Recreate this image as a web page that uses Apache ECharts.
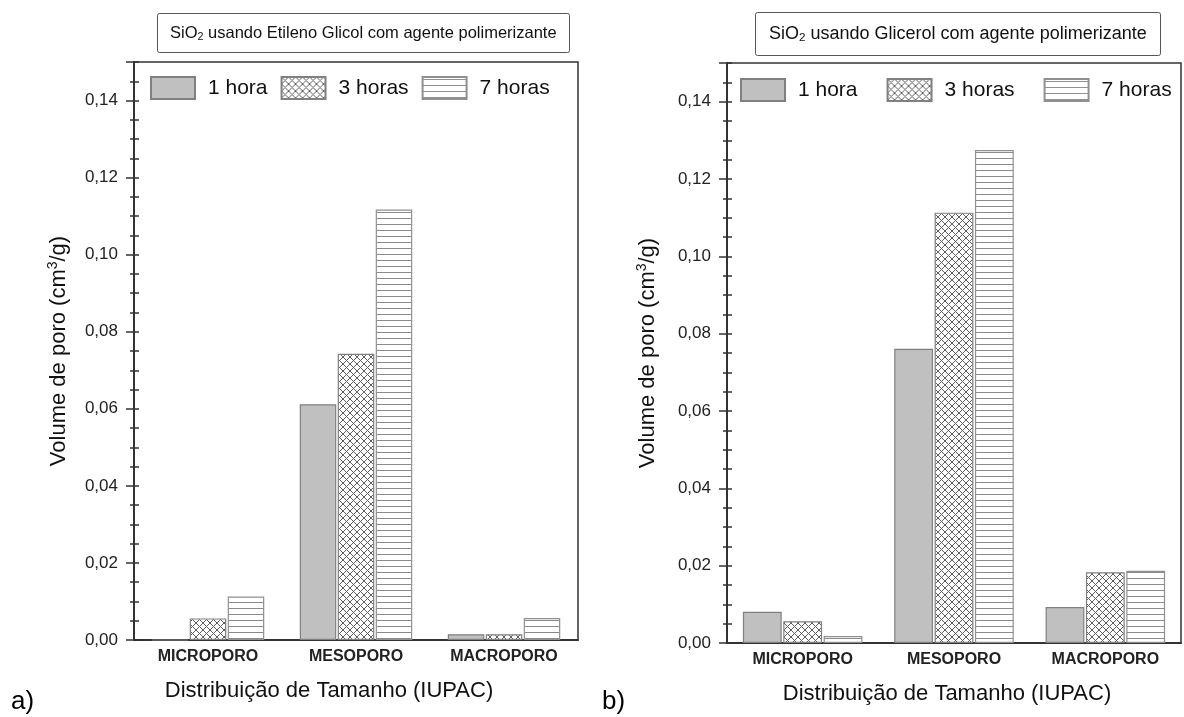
<!DOCTYPE html>
<html>
<head>
<meta charset="utf-8">
<script src="https://cdn.jsdelivr.net/npm/echarts@6/dist/echarts.min.js"></script>
<style>
html, body { margin: 0; padding: 0; background: #fff; }
#main { width: 1184px; height: 717px; }
</style>
</head>
<body>
<div id="main"></div>
<script>
// dados
var categorias = ['MICROPORO', 'MESOPORO', 'MACROPORO'];
var nomes = ['1 hora', '3 horas', '7 horas'];
var yMax = 0.15;
var yIntervalo = 0.02;

// a) SiO2 usando Etileno Glicol
var etileno1h = [0, 0.0612, 0.0015];
var etileno3h = [0.0056, 0.0743, 0.0015];
var etileno7h = [0.0113, 0.1117, 0.0057];

// b) SiO2 usando Glicerol
var glicerol1h = [0.0081, 0.0761, 0.0093];
var glicerol3h = [0.0056, 0.1113, 0.0183];
var glicerol7h = [0.0018, 0.1275, 0.0187];

var fonte = 'Arial, "Liberation Sans", sans-serif';

// texturas das barras
function padraoCruzado() {
    var c = document.createElement('canvas');
    c.width = 7; c.height = 7;
    var ctx = c.getContext('2d');
    ctx.fillStyle = '#fff';
    ctx.fillRect(0, 0, 7, 7);
    ctx.strokeStyle = '#5e5e5e';
    ctx.lineWidth = 1;
    ctx.beginPath();
    ctx.moveTo(0, 0); ctx.lineTo(7, 7);
    ctx.moveTo(7, 0); ctx.lineTo(0, 7);
    ctx.stroke();
    return c;
}
function padraoHorizontal() {
    var c = document.createElement('canvas');
    c.width = 6; c.height = 6;
    var ctx = c.getContext('2d');
    ctx.fillStyle = '#fff';
    ctx.fillRect(0, 0, 6, 6);
    ctx.fillStyle = '#8a8a8a';
    ctx.fillRect(0, 2, 6, 1);
    return c;
}

var estilos = [
    { color: '#c0c0c0', borderColor: '#808080', borderWidth: 1.2 },
    { color: { image: padraoCruzado(), repeat: 'repeat' }, borderColor: '#808080', borderWidth: 1.2 },
    { color: { image: padraoHorizontal(), repeat: 'repeat' }, borderColor: '#909090', borderWidth: 1.2 }
];

var myChart = echarts.init(document.getElementById('main'));

var paineis = [
    { dados: [etileno1h, etileno3h, etileno7h], grid: { left: 134, top: 62, width: 444, height: 578 },
      titulo: 'SiO{s|2} usando Etileno Glicol com agente polimerizante', tituloPos: [157, 13],
      tituloFonte: 16.5, tituloPad: [10, 13],
      legenda: [150, 76, 13], nameGapY: 62, xNamePad: [0, 54, 0, 0], gap: '24%', letra: 'a)', letraX: 11 },
    { dados: [glicerol1h, glicerol3h, glicerol7h], grid: { left: 727, top: 63, width: 454, height: 580 },
      titulo: 'SiO{s|2} usando Glicerol com agente polimerizante', tituloPos: [755, 12],
      tituloFonte: 18, tituloPad: [12, 14],
      legenda: [740, 78, 29], nameGapY: 66, xNamePad: [0, 14, 0, 0], gap: '21%', letra: 'b)', letraX: 602 }
];

var option = {
    backgroundColor: '#fff',
    animation: false,
    title: [], legend: [], grid: [], xAxis: [], yAxis: [], series: [], graphic: []
};

paineis.forEach(function (p, i) {
    option.grid.push({
        left: p.grid.left, top: p.grid.top, width: p.grid.width, height: p.grid.height,
        show: true, borderColor: '#333', borderWidth: 1.5, containLabel: false
    });
    option.title.push({
        text: p.titulo,
        left: p.tituloPos[0], top: p.tituloPos[1],
        padding: p.tituloPad,
        borderColor: '#555', borderWidth: 1, borderRadius: 2,
        textStyle: {
            fontFamily: fonte, fontSize: p.tituloFonte, fontWeight: 'normal', color: '#111', lineHeight: 20,
            rich: { s: { fontFamily: fonte, fontSize: p.tituloFonte * 0.65, lineHeight: 10, verticalAlign: 'bottom', color: '#111' } }
        }
    });
    option.legend.push({
        data: nomes,
        left: p.legenda[0], top: p.legenda[1], padding: 0,
        itemWidth: 44, itemHeight: 22, itemGap: p.legenda[2],
        icon: 'rect', selectedMode: false,
        textStyle: { fontFamily: fonte, fontSize: 21, color: '#111', padding: [0, 0, 0, 8] }
    });
    option.xAxis.push({
        type: 'category', gridIndex: i, data: categorias,
        axisLine: { lineStyle: { color: '#333', width: 2 } },
        axisTick: { show: false },
        axisLabel: { fontFamily: fonte, fontSize: 16, fontWeight: 'bold', color: '#222', margin: 9 },
        name: 'Distribuição de Tamanho (IUPAC)', nameLocation: 'middle', nameGap: 40,
        nameTextStyle: { fontFamily: fonte, fontSize: 22, color: '#111', padding: p.xNamePad }
    });
    // eixo principal com rótulos
    option.yAxis.push({
        type: 'value', gridIndex: i, position: 'left', min: 0, max: yMax, interval: yIntervalo,
        axisLine: { show: true, lineStyle: { color: '#333', width: 2 } },
        axisTick: { show: true, length: 8, lineStyle: { color: '#333', width: 1.5 } },
        splitLine: { show: false },
        axisLabel: {
            fontFamily: fonte, fontSize: 17, color: '#222', margin: 16,
            formatter: function (v) { return v > 0.145 ? '' : v.toFixed(2).replace('.', ','); }
        },
        name: 'Volume de poro (cm{sup|3}/g)', nameLocation: 'middle', nameGap: p.nameGapY,
        nameTextStyle: {
            fontFamily: fonte, fontSize: 22, color: '#111', lineHeight: 26,
            rich: { sup: { fontFamily: fonte, fontSize: 14, lineHeight: 14, verticalAlign: 'top', color: '#111' } }
        }
    });
    // marcas menores para dentro
    option.yAxis.push({
        type: 'value', gridIndex: i, position: 'left', min: 0, max: yMax, interval: 0.005,
        axisLine: { show: false }, splitLine: { show: false }, axisLabel: { show: false },
        axisTick: { show: true, inside: true, length: 5, lineStyle: { color: '#333', width: 1.5 } }
    });
    // marcas menores para fora
    option.yAxis.push({
        type: 'value', gridIndex: i, position: 'left', min: 0, max: yMax, interval: 0.005,
        axisLine: { show: false }, splitLine: { show: false }, axisLabel: { show: false },
        axisTick: { show: true, length: 4, lineStyle: { color: '#333', width: 1.5 } }
    });
    p.dados.forEach(function (d, k) {
        option.series.push({
            name: nomes[k], type: 'bar', xAxisIndex: i, yAxisIndex: i * 3,
            data: d, barGap: '4%', barCategoryGap: p.gap,
            itemStyle: estilos[k]
        });
    });
    option.graphic.push({
        type: 'text', left: p.letraX, top: 689,
        style: { text: p.letra, font: '26px ' + fonte, fill: '#000' }
    });
});

myChart.setOption(option);
window.onresize = myChart.resize;
</script>
</body>
</html>
